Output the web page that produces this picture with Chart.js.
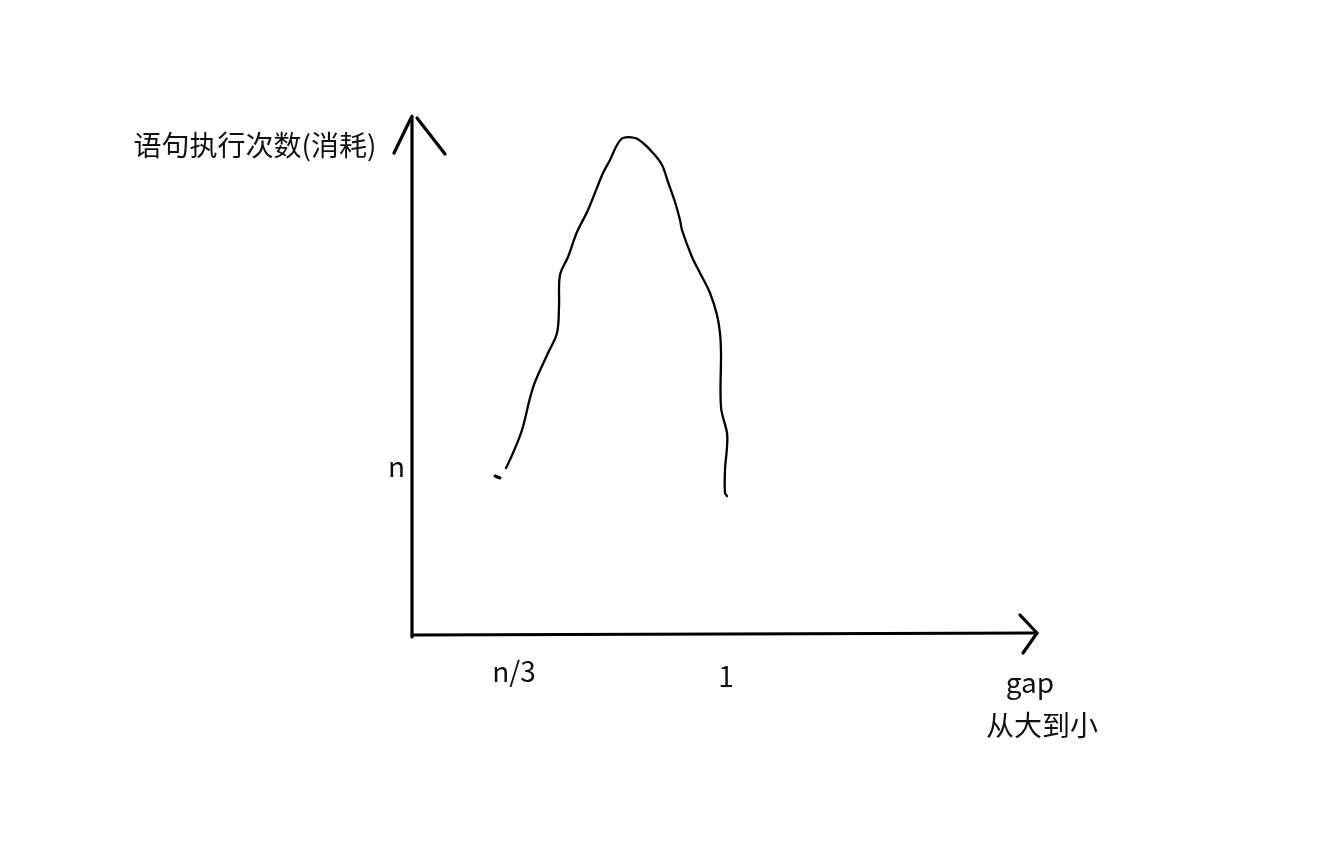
<!DOCTYPE html>
<html lang="zh">
<head>
<meta charset="UTF-8">
<title>gap 与语句执行次数</title>
<script src="https://cdn.jsdelivr.net/npm/chart.js"></script>
<style>
  body { margin: 0; background: #fff; }
  canvas { display: block; }
</style>
</head>
<body>
<canvas id="myChart" width="1343" height="864"></canvas>
<script>
// 横轴 gap(从大到小), 纵轴 语句执行次数(消耗)
// 原点 = 两条坐标轴的交点, 1 个单位大约是原图 1 像素
const curveX = [94, 101, 110, 118, 123, 136, 145, 147, 148, 156, 165, 176, 191, 198, 205, 211,
                223, 231, 241, 250, 256, 263, 268, 270, 280, 288, 298, 305, 308, 309, 309, 315,
                315, 313, 313, 315];
const curveY = [167, 182, 205, 237, 253, 282, 302, 328, 360, 378, 403, 425, 462, 475, 490, 497,
                497, 492, 482, 470, 453, 433, 415, 405, 378, 362, 342, 320, 302, 282, 228, 202,
                188, 165, 142, 139];

// 起笔处的小点
const strayX = [83, 88];
const strayY = [159, 157];

// 坐标轴和箭头 (手绘)
const yAxisX = [0, 0];
const yAxisY = [-2, 519];
const yArrowLeftX = [-18, -1];
const yArrowLeftY = [482, 517];
const yArrowRightX = [5, 33];
const yArrowRightY = [517, 481];
const xAxisX = [0, 625];
const xAxisY = [0, 2];
const xArrowX = [608, 625, 611];
const xArrowY = [20, 2, -18];

// 刻度
const xTickValues = [102, 314];
const xTickLabels = ['n/3', '1'];
const yTickValues = [166];
const yTickLabels = ['n'];

const yTitle = '语句执行次数(消耗)';
const xTitle = ['gap', '从大到小'];

const toPoints = (xs, ys) => xs.map((x, i) => ({x: x, y: ys[i]}));

const stroke = (xs, ys, w) => ({
    data: toPoints(xs, ys),
    borderColor: '#000',
    borderWidth: w,
    pointRadius: 0,
    tension: 0,
    borderCapStyle: 'round',
    borderJoinStyle: 'round',
    clip: false
});

const FONT = '"Noto Sans CJK SC", "Noto Sans", sans-serif';

const textPlugin = {
    id: 'sketchText',
    afterDatasetsDraw(chart) {
        const ctx = chart.ctx;
        const sx = chart.scales.x, sy = chart.scales.y;
        ctx.save();
        ctx.fillStyle = '#111';
        ctx.font = '28px ' + FONT;

        // x 刻度
        const xOffsets = [47, 52];
        ctx.textAlign = 'center';
        ctx.textBaseline = 'alphabetic';
        xTickValues.forEach((v, i) => {
            ctx.fillText(xTickLabels[i], sx.getPixelForValue(v), sy.getPixelForValue(0) + xOffsets[i]);
        });

        // y 刻度
        ctx.textAlign = 'right';
        yTickValues.forEach((v, i) => {
            ctx.fillText(yTickLabels[i], sx.getPixelForValue(0) - 7, sy.getPixelForValue(v) + 8);
        });

        // 轴标题
        ctx.textAlign = 'center';
        ctx.textBaseline = 'middle';
        ctx.fillText(yTitle, sx.getPixelForValue(-157), sy.getPixelForValue(490));
        ctx.textBaseline = 'alphabetic';
        ctx.fillText(xTitle[0], sx.getPixelForValue(618), sy.getPixelForValue(-58));
        ctx.textBaseline = 'middle';
        ctx.fillText(xTitle[1], sx.getPixelForValue(630), sy.getPixelForValue(-90));
        ctx.restore();
    }
};

const ctx = document.getElementById('myChart').getContext('2d');
const myChart = new Chart(ctx, {
    type: 'line',
    data: {
        datasets: [
            Object.assign(stroke(curveX, curveY, 2.3), {tension: 0.35}),
            stroke(strayX, strayY, 3),
            stroke(yAxisX, yAxisY, 3.2),
            stroke(yArrowLeftX, yArrowLeftY, 3.2),
            stroke(yArrowRightX, yArrowRightY, 3.2),
            stroke(xAxisX, xAxisY, 3.2),
            stroke(xArrowX, xArrowY, 3.2)
        ]
    },
    options: {
        responsive: false,
        animation: false,
        layout: { padding: 0 },
        plugins: {
            legend: { display: false },
            tooltip: { enabled: false }
        },
        scales: {
            x: { type: 'linear', min: -412, max: 931, display: false },
            y: { type: 'linear', min: -229, max: 635, display: false }
        }
    },
    plugins: [textPlugin]
});
</script>
</body>
</html>
